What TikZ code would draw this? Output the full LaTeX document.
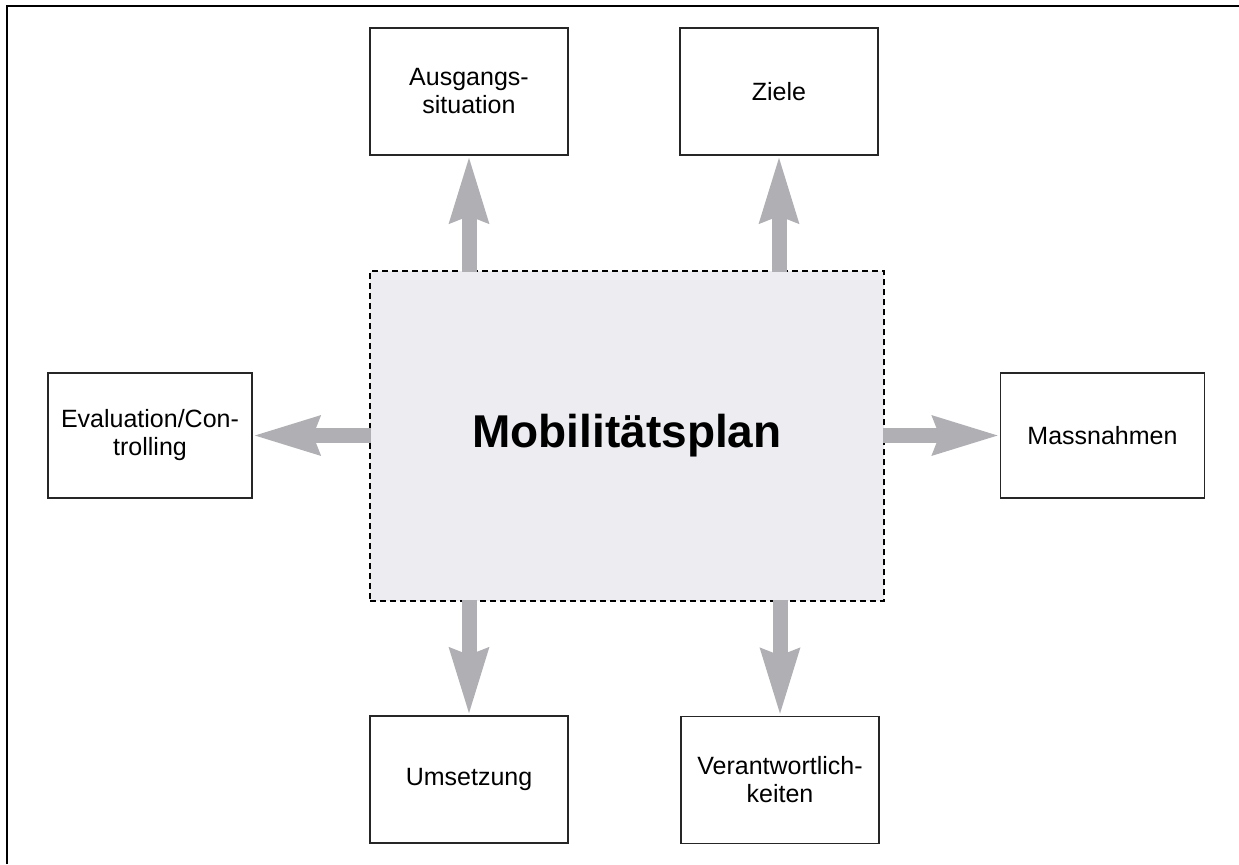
\documentclass[tikz,border=0pt]{standalone}
\usepackage{fontspec}
\setmainfont{Liberation Sans}
\usetikzlibrary{arrows.meta}
\definecolor{planfill}{RGB}{237,236,241}
\definecolor{arrowgray}{RGB}{176,175,180}
\begin{document}
\begin{tikzpicture}[x=0.5pt,y=-0.5pt,
  topic/.style={draw=black!85,line width=0.8pt,fill=white,align=center,
    minimum width=99pt,minimum height=63.5pt,inner sep=2pt,
    font=\fontsize{12.5}{14}\selectfont},
  sidetopic/.style={topic,minimum width=102pt,minimum height=62.5pt},
  plan/.style={draw=black,line width=1pt,dash pattern=on 3pt off 2pt,
    fill=planfill,minimum width=257pt,minimum height=165pt,
    font=\fontsize{23}{26}\selectfont\bfseries},
  fat/.style={draw=arrowgray,line width=7.5pt,line cap=butt,
    -{Stealth[length=33pt,width=18pt,inset=2.5pt,fill=arrowgray]},
    shorten <=-1pt,shorten >=-0.5pt}]
  \useasboundingbox (0,0) rectangle (1239,864);
  % frame lines along the top and left margin
  \draw[line width=1.4pt] (7,864) -- (7,6) -- (1239,6);
  % central plan
  \node[plan] (c) at (627,436) {Mobilitätsplan};
  % surrounding topics
  \node[topic] (a) at (469,91.5) {Ausgangs-\\situation};
  \node[topic] (z) at (779,91.5) {Ziele};
  \node[sidetopic] (e) at (150,435.5) {Evaluation/Con-\\trolling};
  \node[sidetopic] (m) at (1102.5,435.5) {Massnahmen};
  \node[topic] (u) at (469,779.5) {Umsetzung};
  \node[topic] (v) at (780,780) {Verantwortlich-\\keiten};
  % arrows from the plan to each topic
  \draw[fat] (c.north -| a.south) -- (a.south);
  \draw[fat] (c.north -| z.south) -- (z.south);
  \draw[fat] (c.west |- e.east) -- (e.east);
  \draw[fat] (c.east |- m.west) -- (m.west);
  \draw[fat] (c.south -| u.north) -- (u.north);
  \draw[fat] (c.south -| v.north) -- (v.north);
\end{tikzpicture}
\end{document}
